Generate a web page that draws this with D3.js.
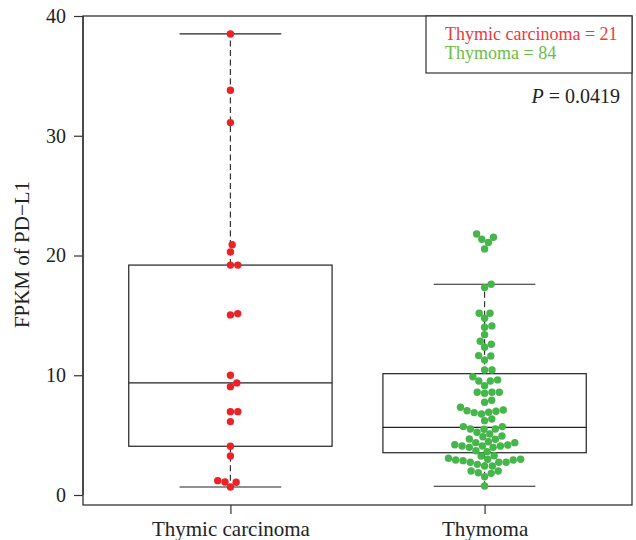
<!DOCTYPE html>
<html><head><meta charset="utf-8">
<script src="https://cdn.jsdelivr.net/npm/d3@7"></script>
<style>body{margin:0;background:#fff}svg{display:block}</style>
</head><body><svg id="chart" width="636" height="540"></svg>
<script>
// ---- data ----
const categories = ["Thymic carcinoma", "Thymoma"];
const carcinomaValues = [38.5, 33.8, 31.1, 20.9, 20.3, 19.2, 19.2, 15.04, 15.15, 10.0,
  9.05, 9.36, 6.96, 6.96, 6.13, 4.07, 3.26, 1.2, 1.09, 1.06, 0.67];
const thymomaValues = [21.8, 21.53, 21.36, 21.08, 20.55, 17.6, 17.32,
  15.18, 15.18, 14.76, 14.12, 14.01, 13.39, 12.84, 12.59, 12.34, 11.64, 11.61, 11.28, 10.44, 10.44,
  9.88, 9.61, 9.52, 9.52, 9.13, 8.58, 8.58, 8.50, 8.58, 7.74, 7.91, 7.33, 6.99, 6.88, 6.77, 7.04, 6.91, 7.10, 6.21, 6.35,
  5.71, 5.71, 5.24, 5.49, 4.87, 5.10, 5.51, 5.51, 4.93, 4.68, 4.65, 4.45, 4.37, 4.20, 4.09, 4.09, 4.18, 4.37, 4.09,
  3.98, 3.98, 3.62, 3.70, 3.26, 3.28, 2.98, 2.98, 2.92, 2.73, 2.73, 2.56, 2.42, 2.42, 2.73, 2.87, 2.92, 3.07,
  2.00, 1.86, 1.81, 2.00, 1.53, 0.75];
const boxQ1 = [4.07, 3.53];
const boxMedian = [9.36, 5.65];
const boxQ3 = [19.2, 10.13];
const whiskerLow = [0.67, 0.73];
const whiskerHigh = [38.5, 17.6];
const yTicks = [0, 10, 20, 30, 40];
const legendLabels = ["Thymic carcinoma = 21", "Thymoma = 84"];
const pValueLabel = " = 0.0419";
const yTitle = "FPKM of PD\u2212L1";

// ---- styles ----
const groupColors = ["#ec2227", "#45b649"];
const legendColors = ["#ec3b3b", "#6cbd45"];
const serif = "'Liberation Serif','Times New Roman',serif";

const svg = d3.select("#chart");
const plot = {left: 83, right: 632, top: 16, bottom: 505};
const x = d3.scaleLinear().domain([0.42, 2.58]).range([plot.left, plot.right]);
const y = d3.scaleLinear().domain([-0.835, 40]).range([plot.bottom, plot.top]);

// boxes
const boxG = svg.append("g").attr("stroke", "#222").attr("fill", "none").attr("stroke-width", 1.2);
categories.forEach((c, i) => {
  const pos = i + 1;
  boxG.append("line").attr("x1", x(pos)).attr("x2", x(pos))
    .attr("y1", y(boxQ3[i])).attr("y2", y(whiskerHigh[i]))
    .attr("stroke", "#333").attr("stroke-dasharray", "6,3.5");
  boxG.append("line").attr("x1", x(pos)).attr("x2", x(pos))
    .attr("y1", y(boxQ1[i])).attr("y2", y(whiskerLow[i]))
    .attr("stroke", "#333").attr("stroke-dasharray", "6,3.5");
  [whiskerHigh[i], whiskerLow[i]].forEach(v => {
    boxG.append("line").attr("x1", x(pos - 0.2)).attr("x2", x(pos + 0.2))
      .attr("y1", y(v)).attr("y2", y(v));
  });
  boxG.append("rect").attr("x", x(pos - 0.4)).attr("width", x(pos + 0.4) - x(pos - 0.4))
    .attr("y", y(boxQ3[i])).attr("height", y(boxQ1[i]) - y(boxQ3[i]));
  boxG.append("line").attr("x1", x(pos - 0.4)).attr("x2", x(pos + 0.4))
    .attr("y1", y(boxMedian[i])).attr("y2", y(boxMedian[i]));
});

// beeswarm (swarm method, ascending priority) in pixel space
function swarm(values, s) {
  const pts = values.map((v, i) => ({v, py: y(v), i, off: 0}));
  const order = pts.slice().sort((a, b) => a.v - b.v);
  const placed = [];
  for (const p of order) {
    const near = placed.filter(q => Math.abs(q.py - p.py) < s);
    if (near.length) {
      near.sort((a, b) => Math.abs(a.off) - Math.abs(b.off));
      const cands = [0];
      near.forEach(q => cands.push(q.off + Math.sqrt(s * s - (p.py - q.py) ** 2)));
      near.forEach(q => cands.push(q.off - Math.sqrt(s * s - (p.py - q.py) ** 2)));
      let best = 0, bestAbs = Infinity;
      for (const c of cands) {
        const bad = near.some(q => (c - q.off) ** 2 + (p.py - q.py) ** 2 < 0.999 * s * s);
        if (!bad && Math.abs(c) < bestAbs) { best = c; bestAbs = Math.abs(c); }
      }
      p.off = best;
    }
    placed.push(p);
  }
  return pts;
}

[carcinomaValues, thymomaValues].forEach((vals, i) => {
  const pts = swarm(vals, 7.4);
  svg.append("g").selectAll("circle").data(pts).join("circle")
    .attr("cx", d => x(i + 1) + d.off)
    .attr("cy", d => d.py)
    .attr("r", 3.7)
    .attr("fill", groupColors[i]);
});

// frame
svg.append("rect").attr("x", plot.left).attr("y", plot.top)
  .attr("width", plot.right - plot.left).attr("height", plot.bottom - plot.top)
  .attr("fill", "none").attr("stroke", "#333").attr("stroke-width", 1.3);

// y axis
const yAxis = svg.append("g").attr("transform", `translate(${plot.left},0)`)
  .call(d3.axisLeft(y).tickValues(yTicks).tickSize(9).tickPadding(8).tickFormat(d3.format("d")));
yAxis.select(".domain").attr("stroke", "#333").attr("stroke-width", 1.3)
  .attr("d", `M0,${y(0)}V${y(40)}`);
yAxis.selectAll(".tick line").attr("stroke", "#333").attr("stroke-width", 1.2);
yAxis.selectAll(".tick text").attr("font-family", serif).attr("font-size", 20).attr("fill", "#222");

// x axis
const xAxis = svg.append("g").attr("transform", `translate(0,${plot.bottom})`)
  .call(d3.axisBottom(x).tickValues([1, 2]).tickSize(9).tickFormat((d, i) => categories[i]));
xAxis.select(".domain").remove();
xAxis.selectAll(".tick line").attr("stroke", "#333").attr("stroke-width", 1.2);
xAxis.selectAll(".tick text").attr("font-family", serif).attr("font-size", 21)
  .attr("fill", "#222").attr("y", 31).attr("dy", 0);

// y title
svg.append("text").attr("transform", `translate(29,${(plot.top + plot.bottom) / 2 - 6}) rotate(-90)`)
  .attr("text-anchor", "middle").attr("font-family", serif).attr("font-size", 21)
  .attr("fill", "#222").text(yTitle);

// legend
svg.append("rect").attr("x", 426).attr("y", plot.top).attr("width", plot.right - 426).attr("height", 57)
  .attr("fill", "#fff").attr("stroke", "#333").attr("stroke-width", 1.2);
legendLabels.forEach((t, i) => {
  svg.append("text").attr("x", 445).attr("y", 39.5 + i * 19)
    .attr("font-family", serif).attr("font-size", 18).attr("fill", legendColors[i]).text(t);
});

// p value
const pt = svg.append("text").attr("x", 620).attr("y", 103).attr("text-anchor", "end")
  .attr("font-family", serif).attr("font-size", 20).attr("fill", "#222");
pt.append("tspan").attr("font-style", "italic").text("P");
pt.append("tspan").text(pValueLabel);
</script></body></html>
